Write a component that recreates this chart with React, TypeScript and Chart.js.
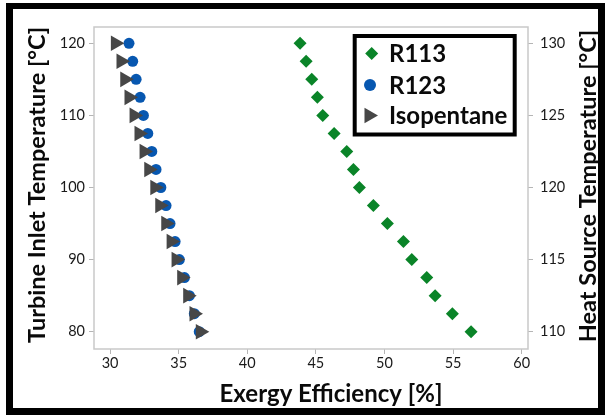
import React, { useEffect, useRef } from 'react';
import { Chart, registerables } from 'chart.js';
import { drawPoint } from 'chart.js/helpers';

Chart.register(...registerables);

// Turbine inlet temperature [°C] (left axis)
const turbineInlet = [120, 117.5, 115, 112.5, 110, 107.5, 105, 102.5, 100, 97.5, 95, 92.5, 90, 87.5, 85, 82.5, 80];
// Exergy efficiency [%]
const r113 = [43.85, 44.29, 44.7, 45.11, 45.5, 46.33, 47.25, 47.74, 48.17, 49.19, 50.21, 51.38, 51.99, 53.08, 53.69, 54.95, 56.31];
const r123 = [31.38, 31.65, 31.9, 32.19, 32.43, 32.75, 33.04, 33.35, 33.7, 34.08, 34.37, 34.74, 35.05, 35.42, 35.78, 36.14, 36.5];
const isopentane = [30.39, 30.8, 31.07, 31.38, 31.75, 32.11, 32.48, 32.82, 33.26, 33.62, 34.06, 34.45, 34.81, 35.22, 35.66, 36.12, 36.58];

const xTicks = [30, 35, 40, 45, 50, 55, 60];
const yTicks = [80, 90, 100, 110, 120];
const y2Ticks = [110, 115, 120, 125, 130];

const X_MIN = 28.83;
const X_MAX = 60.46;
const Y_MIN = 77.6;
const Y_MAX = 122.26;
const Y2_MIN = 108.8;
const Y2_MAX = 131.13;

const seriesNames = ['R113', 'R123', 'Isopentane'];
const xTitle = 'Exergy Efficiency [%]';
const yTitle = 'Turbine Inlet Temperature [°C]';
const y2Title = 'Heat Source Temperature [°C]';

const GREEN = '#0a8428';
const BLUE = '#0757b0';
const GRAY = '#474747';
const FONT = 'Lato, "DejaVu Sans", sans-serif';

const toPts = (xs: number[]) => xs.map((x, i) => ({ x, y: turbineInlet[i] }));

const decorPlugin = {
  id: 'decor',
  beforeDatasetsDraw(chart: any) {
    const { ctx, chartArea: a } = chart;
    ctx.save();
    ctx.strokeStyle = '#c9c9c9';
    ctx.lineWidth = 1.5;
    ctx.strokeRect(a.left, a.top, a.right - a.left, a.bottom - a.top);
    ctx.restore();
  },
  afterDraw(chart: any) {
    const { ctx } = chart;
    ctx.save();
    // legend box
    ctx.strokeStyle = '#000';
    ctx.lineWidth = 4;
    ctx.strokeRect(354.7, 36, 160, 98.5);
    const items = [
      { style: 'rectRot', color: GREEN, r: 6.5, rot: 0, mx: 371.7, y: 53.5 },
      { style: 'circle', color: BLUE, r: 6, rot: 0, mx: 370, y: 85 },
      { style: 'triangle', color: GRAY, r: 9, rot: 90, mx: 369, y: 115.5 },
    ];
    ctx.font = `bold 24px ${FONT}`;
    ctx.textAlign = 'left';
    ctx.textBaseline = 'middle';
    items.forEach((it, i) => {
      ctx.fillStyle = it.color;
      drawPoint(ctx, { pointStyle: it.style, rotation: it.rot, radius: it.r, borderWidth: 0 } as any, it.mx, it.y);
      ctx.fillStyle = '#0a0a0a';
      ctx.fillText(seriesNames[i], 389, it.y + 1);
    });
    // axis titles
    ctx.fillStyle = '#0a0a0a';
    ctx.textAlign = 'center';
    ctx.fillText(xTitle, 331, 394);
    ctx.font = `bold 23.5px ${FONT}`;
    ctx.save();
    ctx.translate(37, 185);
    ctx.rotate(-Math.PI / 2);
    ctx.fillText(yTitle, 0, 0);
    ctx.restore();
    ctx.save();
    ctx.translate(588, 186);
    ctx.rotate(-Math.PI / 2);
    ctx.fillText(y2Title, 0, 0);
    ctx.restore();
    ctx.restore();
  },
};

export default function App() {
  const ref = useRef<HTMLCanvasElement | null>(null);
  useEffect(() => {
    if (!ref.current) return;
    const tickFont = { family: FONT, size: 14.5 };
    const grid = { drawOnChartArea: false, drawTicks: true, tickLength: 5, color: '#b5b5b5' };
    const chart = new Chart(ref.current, {
      type: 'scatter',
      data: {
        datasets: [
          { label: seriesNames[0], data: toPts(r113), pointStyle: 'rectRot', pointRadius: 6.5, pointBorderWidth: 0, backgroundColor: GREEN, borderColor: GREEN, order: 2 },
          { label: seriesNames[1], data: toPts(r123), pointStyle: 'circle', pointRadius: 5.5, pointBorderWidth: 0, backgroundColor: BLUE, borderColor: BLUE, order: 1 },
          { label: seriesNames[2], data: toPts(isopentane), pointStyle: 'triangle', pointRotation: 90, pointRadius: 9, pointBorderWidth: 0, backgroundColor: GRAY, borderColor: GRAY, order: 0 },
        ] as any,
      },
      options: {
        animation: false,
        responsive: false,
        devicePixelRatio: 1,
        layout: { padding: { top: 27, left: 0, right: 0, bottom: 0 } },
        plugins: { legend: { display: false }, tooltip: { enabled: false } },
        scales: {
          x: {
            type: 'linear', min: X_MIN, max: X_MAX,
            afterBuildTicks: (s: any) => { s.ticks = xTicks.map((v) => ({ value: v })); },
            afterFit: (s: any) => { s.height = 67; },
            grid, border: { display: false },
            ticks: { font: tickFont, color: '#1a1a1a', padding: 1 },
          },
          y: {
            type: 'linear', position: 'left', min: Y_MIN, max: Y_MAX,
            afterBuildTicks: (s: any) => { s.ticks = yTicks.map((v) => ({ value: v })); },
            afterFit: (s: any) => { s.width = 94; },
            grid, border: { display: false },
            ticks: { font: tickFont, color: '#1a1a1a', padding: 4 },
          },
          y2: {
            type: 'linear', position: 'right', min: Y2_MIN, max: Y2_MAX,
            afterBuildTicks: (s: any) => { s.ticks = y2Ticks.map((v) => ({ value: v })); },
            afterFit: (s: any) => { s.width = 80; },
            grid, border: { display: false },
            ticks: { font: tickFont, color: '#1a1a1a', padding: 7 },
          },
        },
      } as any,
      plugins: [decorPlugin],
    });
    return () => chart.destroy();
  }, []);
  return (
    <div style={{ position: 'fixed', left: 0, top: 0, width: 608, height: 416, background: '#fff' }}>
      <canvas ref={ref} width={608} height={416} style={{ position: 'absolute', left: 0, top: 0, width: 608, height: 416 }} />
      <div style={{ position: 'absolute', left: 6, top: 3, width: 599, height: 412, boxSizing: 'border-box', borderStyle: 'solid', borderColor: '#000', borderWidth: '6px 7px 7px 7px', pointerEvents: 'none' }} />
    </div>
  );
}
